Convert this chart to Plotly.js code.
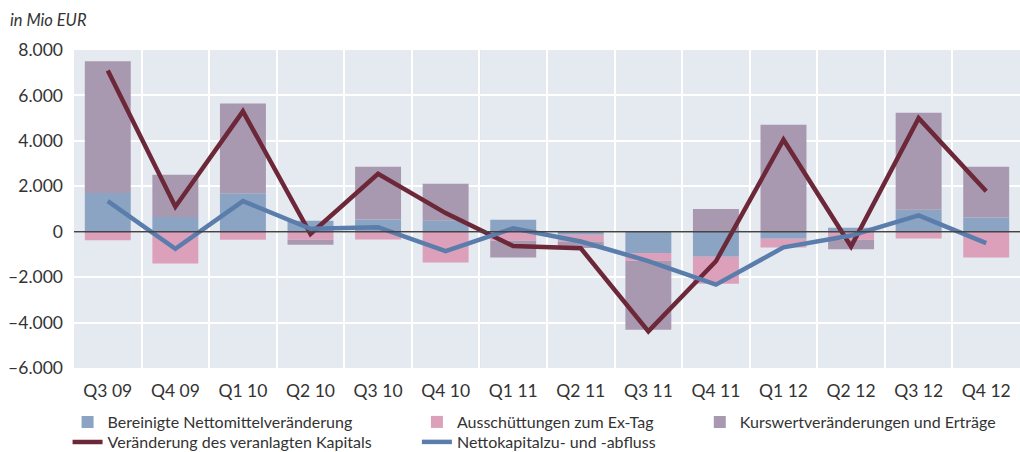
<!DOCTYPE html>
<html>
<head>
<meta charset="utf-8">
<script src="https://cdn.plot.ly/plotly-3.0.1.min.js"></script>
<style>
html,body{margin:0;padding:0;background:#fff;}
#chart{width:1020px;height:452px;}
</style>
</head>
<body>
<div id="chart"></div>
<script>
const categories = ["Q3 09","Q4 09","Q1 10","Q2 10","Q3 10","Q4 10","Q1 11","Q2 11","Q3 11","Q4 11","Q1 12","Q2 12","Q3 12","Q4 12"];
const bereinigteNettomittel = [1700, 650, 1690, 480, 540, 480, 530, -130, -940, -1100, -310, 180, 970, 630];
const ausschuettungen = [-380, -1400, -350, -350, -340, -1350, -400, -300, -340, -1190, -380, -350, -300, -1130];
const kurswertveraenderungen = [5800, 1860, 3950, -220, 2320, 1630, -730, -290, -3040, 1000, 4710, -420, 4270, 2230];
const veraenderungKapital = [7100, 1100, 5300, -100, 2550, 820, -630, -730, -4390, -1300, 4050, -650, 5000, 1780];
const nettokapital = [1350, -750, 1350, 130, 200, -850, 150, -430, -1290, -2330, -690, -170, 720, -500];
const yTickVals = [-6000, -4000, -2000, 0, 2000, 4000, 6000, 8000];
const yTickText = ["–6.000", "–4.000", "–2.000", "0", "2.000", "4.000", "6.000", "8.000"];
const yearBoundaries = [1.5, 5.5, 9.5];

const FONT = "Lato, 'Open Sans', sans-serif";

const traces = [
  {type:"bar", name:"Bereinigte Nettomittelveränderung", x:categories, y:bereinigteNettomittel,
   marker:{color:"#8ca4c3"}, legend:"legend"},
  {type:"bar", name:"Ausschüttungen zum Ex-Tag", x:categories, y:ausschuettungen,
   marker:{color:"#dca0bb"}, legend:"legend2"},
  {type:"bar", name:"Kurswertveränderungen und Erträge", x:categories, y:kurswertveraenderungen,
   marker:{color:"#a899b0"}, legend:"legend3"},
  {type:"scatter", mode:"lines", name:"Veränderung des veranlagten Kapitals", x:categories, y:veraenderungKapital,
   line:{color:"#6c2838", width:4.5}, legend:"legend4"},
  {type:"scatter", mode:"lines", name:"Nettokapitalzu- und -abfluss", x:categories, y:nettokapital,
   line:{color:"#5b7dab", width:4.5}, legend:"legend5"}
];

const legendBase = {orientation:"h", yanchor:"middle", xanchor:"left",
  font:{family:FONT, size:16, color:"#333"}, bgcolor:"rgba(0,0,0,0)", itemwidth:30};
const row1 = -(422 - 368) / 318, row2 = -(442 - 368) / 318;
const col1 = -0.0068, col2 = 0.3625, col3 = 0.6615;

const layout = {
  width:1020, height:452,
  margin:{l:74, r:0, t:50, b:84, autoexpand:false},
  paper_bgcolor:"#ffffff",
  plot_bgcolor:"#e5e9f0",
  barmode:"relative",
  bargap:0.32,
  font:{family:FONT, size:16, color:"#333"},
  title:{text:"<i>in Mio EUR</i>", x:0, xref:"paper", xanchor:"left", y:0.955, yanchor:"middle",
         pad:{l:-64}, font:{family:FONT, size:16.5, color:"#333"}},
  xaxis:{type:"category", tickson:"boundaries", showgrid:true, gridcolor:"#ffffff", gridwidth:2,
         ticks:"", ticklabelstandoff:10, tickfont:{family:FONT, size:17.5, color:"#333"},
         showline:false, zeroline:false, fixedrange:true},
  yaxis:{range:[-6000, 8000], tickvals:yTickVals, ticktext:yTickText, showgrid:true, gridcolor:"#ffffff", gridwidth:2,
         zeroline:false, ticks:"", ticklabelstandoff:10, tickfont:{family:FONT, size:17.5, color:"#333"},
         showline:false, fixedrange:true},
  showlegend:true,
  legend:Object.assign({}, legendBase, {x:col1, y:row1}),
  legend2:Object.assign({}, legendBase, {x:col2, y:row1}),
  legend3:Object.assign({}, legendBase, {x:col3, y:row1}),
  legend4:Object.assign({}, legendBase, {x:col1, y:row2}),
  legend5:Object.assign({}, legendBase, {x:col2, y:row2}),
  shapes: yearBoundaries.map(b => ({type:"line", xref:"x", yref:"paper", x0:b, x1:b, y0:0, y1:1,
            line:{color:"#5e7fb0", width:1.2}, layer:"below"})).concat([
          {type:"line", xref:"paper", yref:"y", x0:0, x1:1, y0:0, y1:0,
            line:{color:"#444444", width:1.5}, layer:"above"}])
};

Plotly.newPlot("chart", traces, layout, {displayModeBar:false, staticPlot:true});
</script>
</body>
</html>
